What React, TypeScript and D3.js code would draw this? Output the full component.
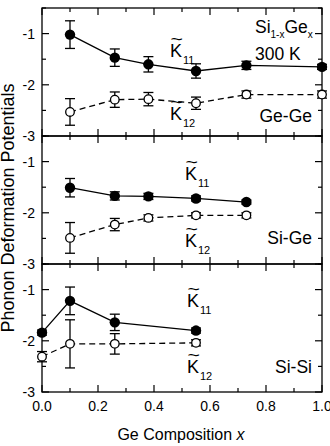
import * as d3 from 'd3';

// Ge-Ge panel
const xGeGe = [0.1, 0.26, 0.38, 0.55, 0.73, 1.0];
const k11GeGe = [-1.02, -1.47, -1.6, -1.73, -1.62, -1.65];
const k11GeGeErr = [0.27, 0.17, 0.15, 0.14, 0.08, 0.05];
const k12GeGe = [-2.53, -2.29, -2.28, -2.36, -2.19, -2.19];
const k12GeGeErr = [0.26, 0.15, 0.13, 0.12, 0.07, 0.07];

// Si-Ge panel
const xSiGe = [0.1, 0.26, 0.38, 0.55, 0.73];
const k11SiGe = [-1.51, -1.67, -1.68, -1.72, -1.79];
const k11SiGeErr = [0.18, 0.08, 0.06, 0.05, 0.04];
const k12SiGe = [-2.49, -2.23, -2.1, -2.05, -2.05];
const k12SiGeErr = [0.3, 0.12, 0.06, 0.05, 0.05];

// Si-Si panel
const xSiSi = [0.0, 0.1, 0.26, 0.55];
const k11SiSi = [-1.84, -1.22, -1.64, -1.8];
const k11SiSiErr = [0.05, 0.27, 0.16, 0.05];
const k12SiSi = [-2.31, -2.06, -2.06, -2.04];
const k12SiSiErr = [0.1, 0.47, 0.2, 0.06];

const xTicks = [0, 0.2, 0.4, 0.6, 0.8, 1.0];
const xTickLabels = ['0.0', '0.2', '0.4', '0.6', '0.8', '1.0'];
const xMinorTicks = [0.1, 0.3, 0.5, 0.7, 0.9];
const yTicks = [-1, -2, -3];
const yMinorTicks = [-0.5, -1.5, -2.5];

interface Pt { x: number; y: number; e: number; }

const zip = (xs: number[], ys: number[], es: number[]): Pt[] =>
  xs.map((x, i) => ({ x, y: ys[i], e: es[i] }));

const panels = [
  { name: 'Ge-Ge', k11: zip(xGeGe, k11GeGe, k11GeGeErr), k12: zip(xGeGe, k12GeGe, k12GeGeErr) },
  { name: 'Si-Ge', k11: zip(xSiGe, k11SiGe, k11SiGeErr), k12: zip(xSiGe, k12SiGe, k12SiGeErr) },
  { name: 'Si-Si', k11: zip(xSiSi, k11SiSi, k11SiSiErr), k12: zip(xSiSi, k12SiSi, k12SiSiErr) },
];

// K-label positions inside each panel (x, baseline of K11, baseline of K12)
const kLabelPos = [
  { x: 170, y11: 57, y12: 120 },
  { x: 185, y11: 180, y12: 247 },
  { x: 187, y11: 307, y12: 373 },
];

const W = 330;
const H = 446;
const left = 42;
const right = 322;
const top0 = 8;
const ph = 128;
const font = 'Arial, "Liberation Sans", Helvetica, sans-serif';

function KLabel({ x, y, sub }: { x: number; y: number; sub: string }) {
  return (
    <g fontFamily={font} fill="#000">
      <text x={x} y={y} fontSize={18}>K</text>
      <text x={x + 0.5} y={y - 12} fontSize={17} transform={`translate(${x + 0.5},${y - 12}) scale(1.25,1) translate(${-(x + 0.5)},${-(y - 12)})`}>~</text>
      <text x={x + 13} y={y + 7} fontSize={11}>{sub}</text>
    </g>
  );
}

export default function App() {
  const x = d3.scaleLinear().domain([0, 1]).range([left, right]);

  return (
    <svg width={W} height={H} style={{ position: 'absolute', left: 0, top: 0, background: '#fff' }}>
      {panels.map((p, pi) => {
        const pt = top0 + pi * ph;
        const y = d3.scaleLinear().domain([-3, -0.5]).range([pt + ph, pt]);
        const line = d3.line<Pt>().x(d => x(d.x)).y(d => y(d.y));
        const kp = kLabelPos[pi];
        return (
          <g key={p.name}>
            <rect x={left} y={pt} width={right - left} height={ph} fill="none" stroke="#000" strokeWidth={1.3} />
            {/* x ticks top and bottom, inward */}
            {xTicks.map(t => (
              <g key={'xt' + t}>
                <line x1={x(t)} x2={x(t)} y1={pt + ph} y2={pt + ph - 7} stroke="#000" strokeWidth={1.2} />
                <line x1={x(t)} x2={x(t)} y1={pt} y2={pt + 7} stroke="#000" strokeWidth={1.2} />
              </g>
            ))}
            {xMinorTicks.map(t => (
              <g key={'xm' + t}>
                <line x1={x(t)} x2={x(t)} y1={pt + ph} y2={pt + ph - 4} stroke="#000" strokeWidth={1.2} />
                <line x1={x(t)} x2={x(t)} y1={pt} y2={pt + 4} stroke="#000" strokeWidth={1.2} />
              </g>
            ))}
            {/* y ticks left and right, inward */}
            {yTicks.map(t => (
              <g key={'yt' + t}>
                <line x1={left} x2={left + 7} y1={y(t)} y2={y(t)} stroke="#000" strokeWidth={1.2} />
                <line x1={right} x2={right - 7} y1={y(t)} y2={y(t)} stroke="#000" strokeWidth={1.2} />
                <text x={35} y={y(t)} dy="0.35em" textAnchor="end" fontSize={14} fontFamily={font}>{t}</text>
              </g>
            ))}
            {yMinorTicks.map(t => (
              <g key={'ym' + t}>
                <line x1={left} x2={left + 4} y1={y(t)} y2={y(t)} stroke="#000" strokeWidth={1.2} />
                <line x1={right} x2={right - 4} y1={y(t)} y2={y(t)} stroke="#000" strokeWidth={1.2} />
              </g>
            ))}
            {/* lines */}
            <path d={line(p.k11) ?? ''} fill="none" stroke="#000" strokeWidth={1.3} />
            <path d={line(p.k12) ?? ''} fill="none" stroke="#000" strokeWidth={1.3} strokeDasharray="6,4" />
            {/* error bars */}
            {[...p.k11, ...p.k12].map((d, i) => (
              <g key={'e' + i} stroke="#000" strokeWidth={1.3}>
                <line x1={x(d.x)} x2={x(d.x)} y1={y(d.y - d.e)} y2={y(d.y + d.e)} />
                <line x1={x(d.x) - 5} x2={x(d.x) + 5} y1={y(d.y - d.e)} y2={y(d.y - d.e)} />
                <line x1={x(d.x) - 5} x2={x(d.x) + 5} y1={y(d.y + d.e)} y2={y(d.y + d.e)} />
              </g>
            ))}
            {/* markers */}
            {p.k11.map((d, i) => (
              <circle key={'m11' + i} cx={x(d.x)} cy={y(d.y)} r={5.2} fill="#000" />
            ))}
            {p.k12.map((d, i) => (
              <circle key={'m12' + i} cx={x(d.x)} cy={y(d.y)} r={4.3} fill="#fff" stroke="#000" strokeWidth={1.3} />
            ))}
            <KLabel x={kp.x} y={kp.y11} sub="11" />
            <KLabel x={kp.x} y={kp.y12} sub="12" />
          </g>
        );
      })}
      {/* panel annotations */}
      <g fontFamily={font} fill="#000">
        <text x={255} y={33} fontSize={17.5}>
          Si<tspan fontSize={10} dy={5}>1-x</tspan><tspan dy={-5}>Ge</tspan><tspan fontSize={10} dy={5}>x</tspan>
        </text>
        <text x={255} y={60} fontSize={17.5}>300 K</text>
        <text x={312} y={122} fontSize={17.5} textAnchor="end">Ge-Ge</text>
        <text x={312} y={244} fontSize={17.5} textAnchor="end">Si-Ge</text>
        <text x={312} y={373} fontSize={17.5} textAnchor="end">Si-Si</text>
      </g>
      {/* x tick labels */}
      {xTicks.map((t, i) => (
        <text key={'xl' + t} x={x(t)} y={411} textAnchor="middle" fontSize={14} fontFamily={font}>{xTickLabels[i]}</text>
      ))}
      <text x={181} y={440} textAnchor="middle" fontSize={16} fontFamily={font}>
        Ge Composition <tspan fontStyle="italic">x</tspan>
      </text>
      <text transform="translate(14,208) rotate(-90)" textAnchor="middle" fontSize={18} fontFamily={font}>
        Phonon Deformation Potentials
      </text>
    </svg>
  );
}
